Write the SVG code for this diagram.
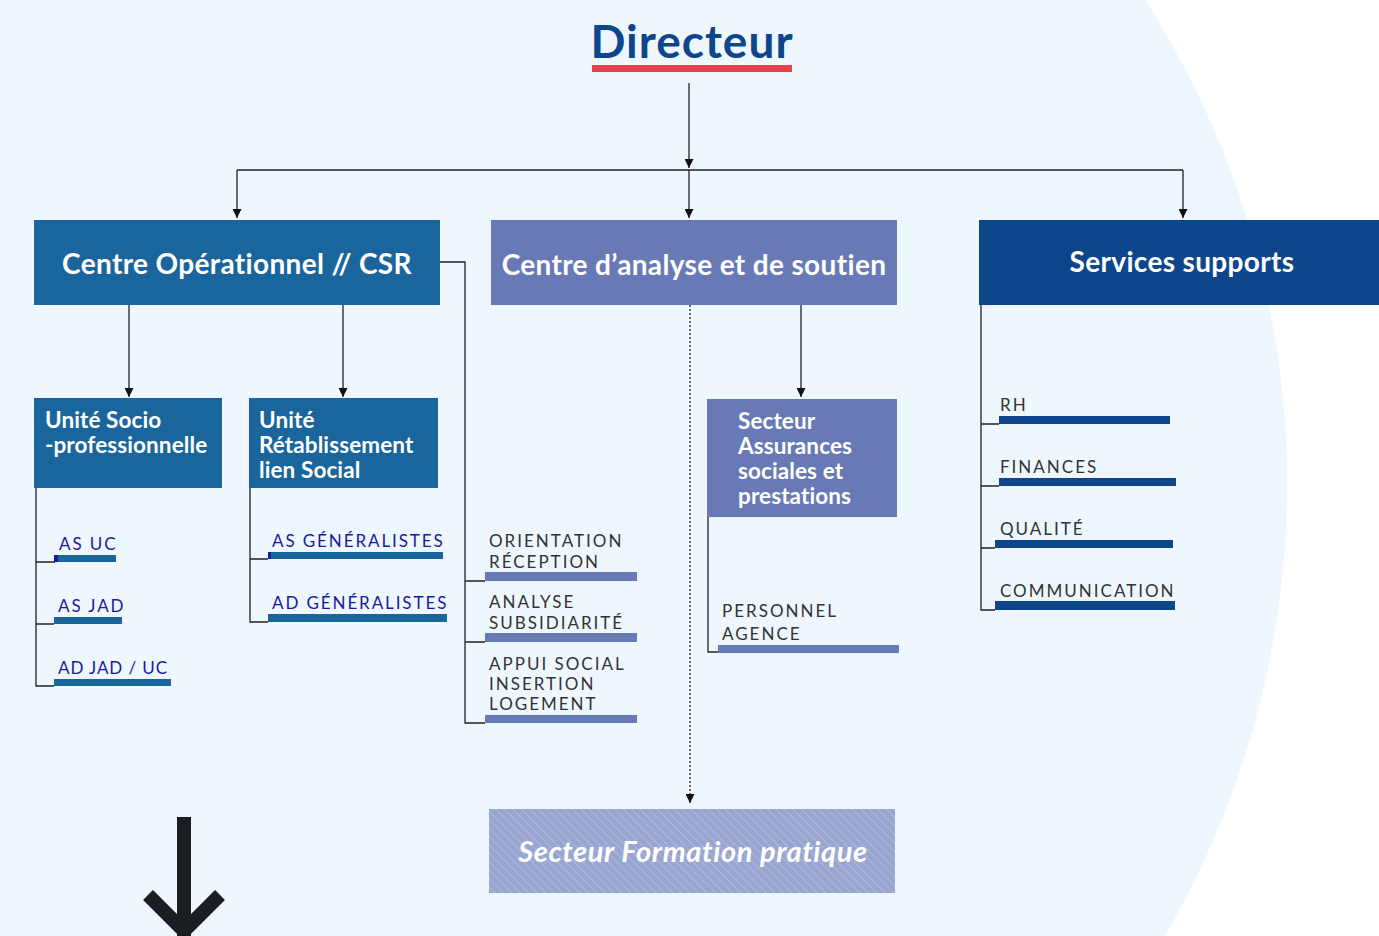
<svg xmlns="http://www.w3.org/2000/svg" width="1379" height="936" viewBox="0 0 1379 936">
<defs>
<style>
.t{font-family:Lato,"Open Sans",sans-serif}
.box{font-family:Lato,sans-serif;font-weight:bold;fill:#fff}
.big{font-size:28px;letter-spacing:0.35px}
.sm{font-size:22.5px;letter-spacing:0.1px}
.cap{font-family:Lato,sans-serif;font-size:17px;letter-spacing:2px;fill:#333}
.capb{font-family:Lato,sans-serif;font-size:17px;letter-spacing:1.9px;fill:#1a1aa0}
.ln{stroke:#222;stroke-width:1.3;fill:none}
</style>
<marker id="ar" viewBox="0 0 10 10" refX="10" refY="5" markerWidth="9" markerHeight="9" markerUnits="userSpaceOnUse" orient="auto">
<path d="M0,0 L10,5 L0,10 z" fill="#111"/>
</marker>
<pattern id="hatch" width="6" height="6" patternUnits="userSpaceOnUse" patternTransform="rotate(-45)">
<rect width="6" height="6" fill="#97a5d0"/>
<line x1="0" y1="0" x2="0" y2="6" stroke="#c6cfe8" stroke-width="1"/>
</pattern>
</defs>
<rect width="1379" height="936" fill="#fff"/>
<circle cx="390" cy="484" r="897" fill="#eef7fd"/>

<g id="connectors">
<path class="ln" d="M689,83 V168" marker-end="url(#ar)"/>
<path class="ln" d="M237,170 H1183"/>
<path class="ln" d="M237,170 V218" marker-end="url(#ar)"/>
<path class="ln" d="M689,170 V218" marker-end="url(#ar)"/>
<path class="ln" d="M1183,170 V218" marker-end="url(#ar)"/>
<path class="ln" d="M129,305 V397" marker-end="url(#ar)"/>
<path class="ln" d="M343,305 V397" marker-end="url(#ar)"/>
<path class="ln" d="M440,262 H465 V723 H485 M465,581 H485 M465,642 H485"/>
<path class="ln" d="M36,488 V686 H54 M36,562 H55 M36,624 H54"/>
<path class="ln" d="M250,488 V622 H268 M250,559 H268"/>
<path class="ln" d="M690,305 V803" stroke-dasharray="2,2" marker-end="url(#ar)"/>
<path class="ln" d="M801,305 V397" marker-end="url(#ar)"/>
<path class="ln" d="M708,517 V652 H718"/>
<path class="ln" d="M981,305 V610 H995 M981,424 H999 M981,486 H999 M981,548 H995"/>
</g>

<g id="directeur">
<text x="692" y="58" text-anchor="middle" class="t" font-size="46" font-weight="bold" letter-spacing="1" fill="#0d468b">Directeur</text>
<rect x="592" y="65" width="200" height="7" fill="#e8414b"/>
</g>

<g id="csr">
<rect x="34" y="220" width="406" height="85" fill="#1b659d"/>
<text x="237" y="274" text-anchor="middle" class="box big">Centre Opérationnel // CSR</text>
</g>

<g id="cas">
<rect x="491" y="220" width="406" height="85" fill="#687ab5"/>
<text x="694" y="275" text-anchor="middle" class="box big">Centre d’analyse et de soutien</text>
</g>

<g id="supports">
<rect x="979" y="220" width="400" height="85" fill="#0d468b"/>
<text x="1182" y="272" text-anchor="middle" class="box big">Services supports</text>
</g>

<g id="unite-socio">
<rect x="34" y="398" width="188" height="90" fill="#1b659d"/>
<text class="box sm"><tspan x="45" y="428">Unité Socio</tspan><tspan x="45" y="453">-professionnelle</tspan></text>
</g>

<g id="unite-retab">
<rect x="249" y="398" width="189" height="90" fill="#1b659d"/>
<text class="box sm"><tspan x="259" y="428">Unité</tspan><tspan x="259" y="453">Rétablissement</tspan><tspan x="259" y="478">lien Social</tspan></text>
</g>

<g id="as-uc">
<text x="59" y="550" class="capb">AS UC</text>
<rect x="54" y="555" width="62" height="7" fill="#1b659d"/>
<rect x="54" y="555" width="4" height="7" fill="#1a1aa0"/>
</g>
<g id="as-jad">
<text x="58" y="612" class="capb">AS JAD</text>
<rect x="54" y="617" width="68" height="7" fill="#1b659d"/>
</g>
<g id="ad-jad-uc">
<text x="58" y="674" class="capb" style="letter-spacing:0.9px">AD JAD / UC</text>
<rect x="54" y="679" width="117" height="7" fill="#1b659d"/>
</g>

<g id="as-gen">
<text x="272" y="547" class="capb">AS GÉNÉRALISTES</text>
<rect x="268" y="552" width="175" height="7" fill="#1b659d"/>
<rect x="268" y="552" width="3" height="7" fill="#1a1aa0"/>
</g>
<g id="ad-gen">
<text x="272" y="609" class="capb">AD GÉNÉRALISTES</text>
<rect x="268" y="614" width="179" height="8" fill="#1b659d"/>
</g>

<g id="orientation">
<text class="cap"><tspan x="489" y="547">ORIENTATION</tspan><tspan x="489" y="568">RÉCEPTION</tspan></text>
<rect x="485" y="572" width="152" height="9" fill="#687ab5"/>
</g>
<g id="analyse">
<text class="cap"><tspan x="489" y="608">ANALYSE</tspan><tspan x="489" y="629">SUBSIDIARITÉ</tspan></text>
<rect x="485" y="633" width="152" height="9" fill="#687ab5"/>
</g>
<g id="appui">
<text class="cap"><tspan x="489" y="670">APPUI SOCIAL</tspan><tspan x="489" y="690">INSERTION</tspan><tspan x="489" y="710">LOGEMENT</tspan></text>
<rect x="485" y="715" width="152" height="8" fill="#687ab5"/>
</g>

<g id="secteur-assurances">
<rect x="707" y="399" width="190" height="118" fill="#687ab5"/>
<text class="box sm"><tspan x="738" y="429">Secteur</tspan><tspan x="738" y="454">Assurances</tspan><tspan x="738" y="479">sociales et</tspan><tspan x="738" y="504">prestations</tspan></text>
</g>
<g id="personnel">
<text class="cap"><tspan x="722" y="617">PERSONNEL</tspan><tspan x="722" y="640">AGENCE</tspan></text>
<rect x="718" y="645" width="181" height="8" fill="#687ab5"/>
</g>

<g id="rh">
<text x="1000" y="411" class="cap">RH</text>
<rect x="999" y="416" width="171" height="8" fill="#0d468b"/>
</g>
<g id="finances">
<text x="1000" y="473" class="cap">FINANCES</text>
<rect x="999" y="478" width="177" height="8" fill="#0d468b"/>
</g>
<g id="qualite">
<text x="1000" y="535" class="cap">QUALITÉ</text>
<rect x="995" y="540" width="178" height="8" fill="#0d468b"/>
</g>
<g id="communication">
<text x="1000" y="597" class="cap">COMMUNICATION</text>
<rect x="995" y="601" width="180" height="9" fill="#0d468b"/>
</g>

<g id="formation">
<rect x="489" y="809" width="406" height="84" fill="url(#hatch)"/>
<text x="693" y="862" text-anchor="middle" class="box" font-size="29" letter-spacing="0.6" font-style="italic">Secteur Formation pratique</text>
</g>

<g id="big-arrow" fill="none" stroke="#1a1d21" stroke-width="14">
<path d="M184,817 V936"/>
<path d="M148,895 L184,931 L220,895"/>
</g>
</svg>
